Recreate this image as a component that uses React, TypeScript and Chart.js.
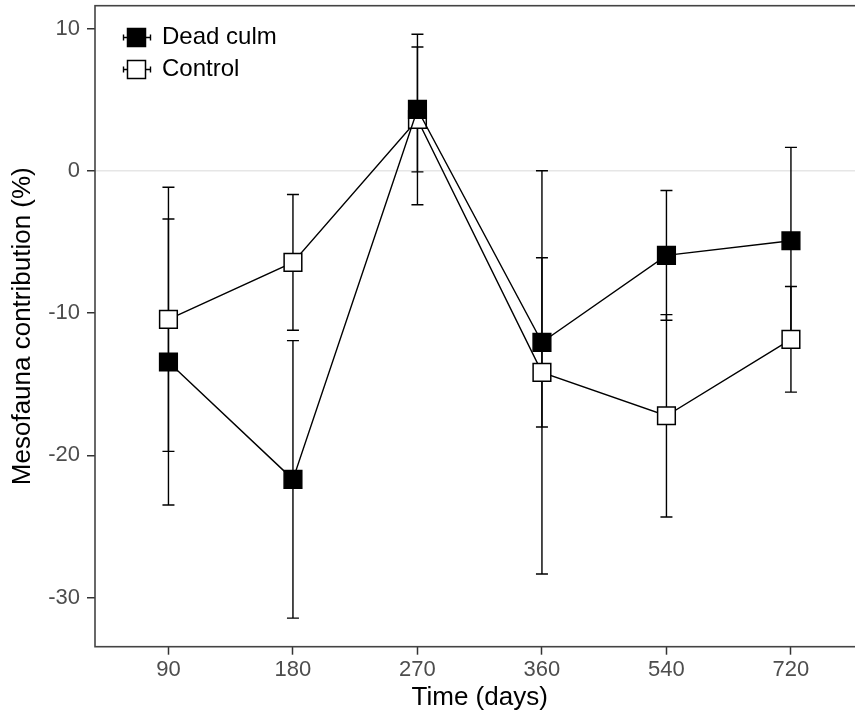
import React, { useEffect, useRef } from "react";
import { Chart, registerables } from "chart.js";

Chart.register(...registerables);

const timeLabels = ["90", "180", "270", "360", "540", "720"];
const deadCulmMean = [-13.44, -21.69, 4.31, -12.06, -5.95, -4.92];
const deadCulmErr = [10.05, 9.75, 4.39, 5.95, 4.56, 6.56];
const controlMean = [-10.44, -6.44, 3.6, -14.17, -17.22, -11.85];
const controlErr = [9.28, 4.77, 5.99, 14.17, 7.11, 3.71];
const yTicks = [-30, -20, -10, 0, 10];
const seriesNames = ["Dead culm", "Control"];

const FONT = "'Liberation Sans', Arial, Helvetica, sans-serif";

const errorBarPlugin = {
  id: "errorBars",
  beforeDatasetsDraw(chart: any) {
    const { ctx } = chart;
    const xs = chart.scales.x;
    const ys = chart.scales.y;
    const sets = [
      { m: controlMean, e: controlErr },
      { m: deadCulmMean, e: deadCulmErr },
    ];
    ctx.save();
    ctx.strokeStyle = "#000";
    ctx.lineWidth = 1.4;
    sets.forEach((s) => {
      s.m.forEach((mean, i) => {
        const x = xs.getPixelForValue(i);
        const yTop = ys.getPixelForValue(mean + s.e[i]);
        const yBot = ys.getPixelForValue(mean - s.e[i]);
        ctx.beginPath();
        ctx.moveTo(x, yTop);
        ctx.lineTo(x, yBot);
        ctx.moveTo(x - 6, yTop);
        ctx.lineTo(x + 6, yTop);
        ctx.moveTo(x - 6, yBot);
        ctx.lineTo(x + 6, yBot);
        ctx.stroke();
      });
    });
    ctx.restore();
  },
};

const frameLegendPlugin = {
  id: "frameLegend",
  afterDraw(chart: any) {
    const { ctx, chartArea } = chart;
    ctx.save();
    ctx.strokeStyle = "#444";
    ctx.lineWidth = 1.6;
    ctx.strokeRect(
      chartArea.left,
      chartArea.top,
      chartArea.right - chartArea.left,
      chartArea.bottom - chartArea.top
    );
    const fills = ["#000", "#fff"];
    const rows = [37.5, 69.5];
    seriesNames.forEach((name, k) => {
      const cy = rows[k];
      ctx.strokeStyle = "#000";
      ctx.lineWidth = 1.4;
      ctx.beginPath();
      ctx.moveTo(123.5, cy);
      ctx.lineTo(150.5, cy);
      ctx.moveTo(123.5, cy - 3);
      ctx.lineTo(123.5, cy + 3);
      ctx.moveTo(150.5, cy - 3);
      ctx.lineTo(150.5, cy + 3);
      ctx.stroke();
      ctx.fillStyle = fills[k];
      ctx.fillRect(127.5, cy - 9, 18, 18);
      ctx.lineWidth = 1.5;
      ctx.strokeRect(127.5, cy - 9, 18, 18);
      ctx.fillStyle = "#000";
      ctx.font = `24px ${FONT}`;
      ctx.textBaseline = "middle";
      ctx.textAlign = "left";
      ctx.fillText(name, 162, cy);
    });
    ctx.restore();
  },
};

export default function App() {
  const ref = useRef<HTMLCanvasElement>(null);

  useEffect(() => {
    if (!ref.current) return;
    const chart = new Chart(ref.current, {
      type: "line",
      data: {
        datasets: [
          {
            label: seriesNames[0],
            data: deadCulmMean.map((v, i) => ({ x: i, y: v })),
            borderColor: "#000",
            borderWidth: 1.4,
            backgroundColor: "#000",
            pointStyle: "rect",
            pointRadius: 12.5,
            pointBorderColor: "#000",
            pointBackgroundColor: "#000",
            pointBorderWidth: 1.5,
            tension: 0,
          },
          {
            label: seriesNames[1],
            data: controlMean.map((v, i) => ({ x: i, y: v })),
            borderColor: "#000",
            borderWidth: 1.4,
            backgroundColor: "#fff",
            pointStyle: "rect",
            pointRadius: 12.5,
            pointBorderColor: "#000",
            pointBackgroundColor: "#fff",
            pointBorderWidth: 1.5,
            tension: 0,
          },
        ],
      },
      options: {
        responsive: false,
        animation: false,
        events: [],
        layout: {
          autoPadding: false,
          padding: { top: 5.7, left: 0, right: 15.6, bottom: 0 },
        },
        plugins: {
          legend: { display: false },
          tooltip: { enabled: false },
        },
        scales: {
          x: {
            type: "linear",
            min: -0.59,
            max: 5.59,
            afterFit: (scale: any) => {
              scale.height = 72.3;
              scale.paddingLeft = 0;
              scale.paddingRight = 0;
            },
            afterBuildTicks: (scale: any) => {
              scale.ticks = timeLabels.map((_, i) => ({ value: i }));
            },
            ticks: {
              callback: (v: any) => timeLabels[v] ?? "",
              color: "#4d4d4d",
              font: { family: FONT, size: 22 },
              padding: 2,
              autoSkip: false,
              maxRotation: 0,
            },
            grid: {
              drawOnChartArea: false,
              tickLength: 8,
              tickColor: "#333",
              tickWidth: 1.5,
            },
            border: { display: false },
            title: {
              display: true,
              text: "Time (days)",
              color: "#000",
              font: { family: FONT, size: 26 },
              padding: 5.7,
            },
          },
          y: {
            type: "linear",
            min: -33.45,
            max: 11.6,
            afterFit: (scale: any) => {
              scale.width = 95;
              scale.paddingTop = 0;
              scale.paddingBottom = 0;
            },
            afterBuildTicks: (scale: any) => {
              scale.ticks = yTicks.map((v) => ({ value: v }));
            },
            ticks: {
              color: "#4d4d4d",
              font: { family: FONT, size: 22 },
              padding: 7,
            },
            grid: {
              drawOnChartArea: true,
              color: (c: any) =>
                c.tick && c.tick.value === 0 ? "#e6e6e6" : "rgba(0,0,0,0)",
              lineWidth: 1.5,
              tickLength: 8,
              tickColor: "#333",
              tickWidth: 1.5,
            },
            border: { display: false },
            title: {
              display: true,
              text: "Mesofauna contribution (%)",
              color: "#000",
              font: { family: FONT, size: 26 },
              padding: 7.4,
            },
          },
        },
      },
      plugins: [errorBarPlugin, frameLegendPlugin],
    });
    return () => chart.destroy();
  }, []);

  return (
    <div
      style={{
        position: "fixed",
        left: 0,
        top: 0,
        width: 855,
        height: 719,
        overflow: "hidden",
        background: "#fff",
      }}
    >
      <canvas ref={ref} width={880} height={719} style={{ display: "block" }} />
    </div>
  );
}
